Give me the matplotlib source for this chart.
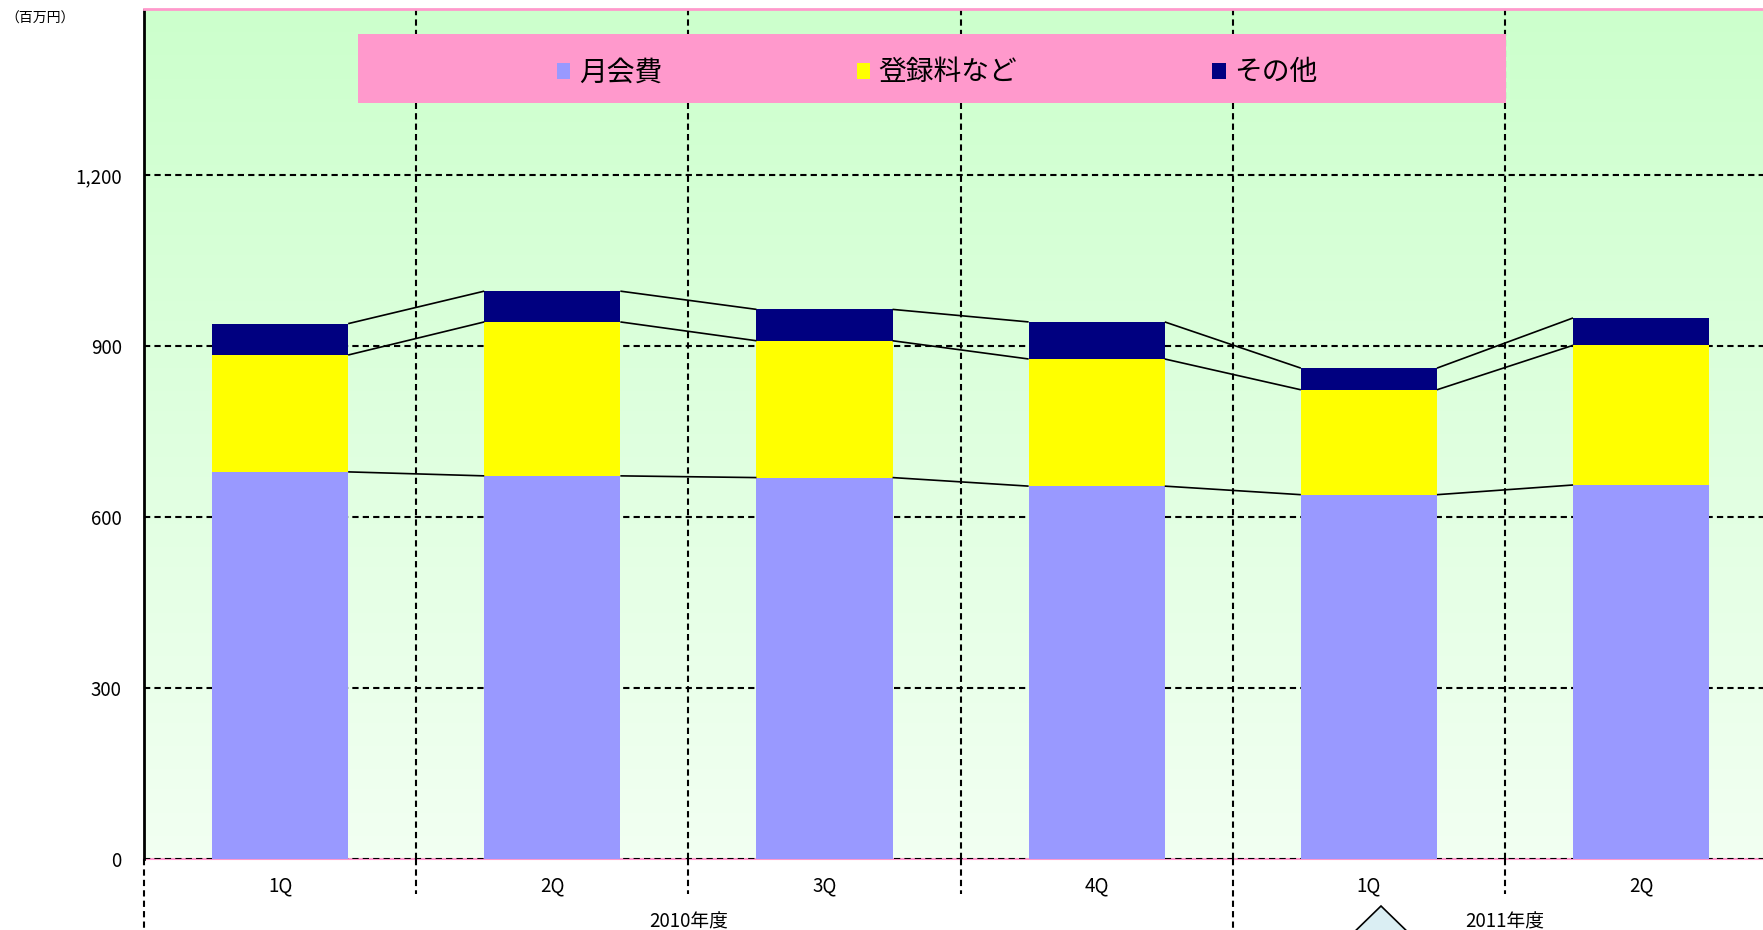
import numpy as np
import matplotlib
matplotlib.use("Agg")
import matplotlib.pyplot as plt
from matplotlib.colors import LinearSegmentedColormap
from matplotlib.patches import Rectangle, Polygon
from matplotlib.transforms import blended_transform_factory

plt.rcParams['font.family'] = ['Noto Sans CJK JP', 'DejaVu Sans']

# ---- data ----
quarters = ["1Q", "2Q", "3Q", "4Q", "1Q", "2Q"]
years = ["2010年度", "2011年度"]
year_spans = [(0, 4), (4, 6)]
series_names = ["月会費", "登録料など", "その他"]
monthly_fee = [679, 672, 669, 654, 639, 656]
registration = [205, 270, 240, 223, 184, 245]
other = [55, 54, 55, 65, 38, 48]
yticks = [0, 300, 600, 900, 1200]
unit_label = "（百万円）"

colors = ["#9999FF", "#FFFF00", "#000080"]
PINK = "#FF99CC"

W, H = 1763, 930
fig = plt.figure(figsize=(W / 100, H / 100), dpi=100)
fig.patch.set_facecolor("white")

ax_left, ax_right = 144, 144 + 6 * 272.2
ax_top, ax_bottom = 9.5, 859
ax = fig.add_axes([ax_left / W, 1 - ax_bottom / H,
                   (ax_right - ax_left) / W, (ax_bottom - ax_top) / H])
ymax = 1490
ax.set_xlim(0, 6)
ax.set_ylim(0, ymax)

# gradient background
cmap = LinearSegmentedColormap.from_list("bg", ["#F2FFF2", "#CCFFCC"])
grad = np.linspace(0, 1, 256).reshape(-1, 1)
ax.imshow(grad, extent=[0, 6, 0, ymax], origin="lower", aspect="auto",
          cmap=cmap, zorder=0)
ax.patch.set_visible(False)

x = np.arange(len(quarters)) + 0.5
bw = 0.5
series = [monthly_fee, registration, other]
bottom = np.zeros(len(quarters))
levels = []
handles = []
for vals, c, name in zip(series, colors, series_names):
    vals = np.array(vals, dtype=float)
    b = ax.bar(x, vals, width=bw, bottom=bottom, color=c, edgecolor="none",
               label=name, zorder=3)
    handles.append(b)
    bottom = bottom + vals
    levels.append(bottom.copy())

# series connector lines
for lev in levels:
    for i in range(len(x) - 1):
        ax.plot([x[i] + bw / 2, x[i + 1] - bw / 2], [lev[i], lev[i + 1]],
                color="black", lw=1.2, zorder=4, solid_capstyle="butt")

# grid
ax.set_yticks(yticks)
ax.set_yticklabels([f"{v:,}" for v in yticks], fontsize=13.5)
ax.set_xticks(x)
ax.set_xticklabels(quarters, fontsize=13.5)
ax.set_xticks(np.arange(0, 7), minor=True)
ax.tick_params(axis="both", which="both", length=0)
ax.tick_params(axis="y", pad=16)
ax.tick_params(axis="x", pad=12)
dash = (0, (3, 2))
for v in yticks:
    ax.axhline(v, color="black", lw=1.5, ls=dash, zorder=2)
for v in range(1, 6):
    ax.axvline(v, color="black", lw=1.5, ls=dash, zorder=2)

ax.spines["right"].set_visible(False)
ax.spines["top"].set_color(PINK)
ax.spines["top"].set_linewidth(2)
ax.spines["bottom"].set_color(PINK)
ax.spines["bottom"].set_linewidth(1.5)
ax.spines["bottom"].set_zorder(1)
ax.spines["left"].set_color("black")
ax.spines["left"].set_linewidth(2)

# lines below axis
trans = blended_transform_factory(ax.transData, ax.transAxes)
ph = ax_bottom - ax_top
for v in [1, 2, 3, 5]:
    ax.plot([v, v], [0, -(894 - 859) / ph], color="black", lw=1.5, ls=dash,
            transform=trans, clip_on=False)
for v in [0, 4]:
    ax.plot([v, v], [0, -(100) / ph], color="black", lw=1.5, ls=dash,
            transform=trans, clip_on=False)

# year labels
for name, (a, b) in zip(years, year_spans):
    ax.text((a + b) / 2, -(922 - 859) / ph, name, transform=trans,
            ha="center", va="center", fontsize=13.5)

# legend box
fig.add_artist(Rectangle((357.5 / W, 1 - 103.5 / H), (1505.5 - 357.5) / W,
                         (103.5 - 33.7) / H, transform=fig.transFigure,
                         facecolor=PINK, edgecolor="none", zorder=5))
leg = fig.legend(handles=handles, labels=series_names, loc="center",
                 bbox_to_anchor=(937 / W, 1 - 72.5 / H), ncol=3, frameon=False,
                 fontsize=20, handlelength=0.5, handleheight=0.5,
                 handletextpad=0.3, columnspacing=7.0)
leg.set_zorder(6)

# unit label
fig.text(5 / W, 1 - 19 / H, unit_label, fontsize=10, ha="left", va="center")

# shape partially visible at bottom
def fp(px, py):
    return (px / W, 1 - py / H)
tri = Polygon([fp(1381, 906), fp(1346, 940), fp(1416, 940)], closed=True,
              transform=fig.transFigure, facecolor="#DAEEF3",
              edgecolor="black", lw=1.2, zorder=7)
fig.add_artist(tri)

fig.savefig("out.png", dpi=100)
